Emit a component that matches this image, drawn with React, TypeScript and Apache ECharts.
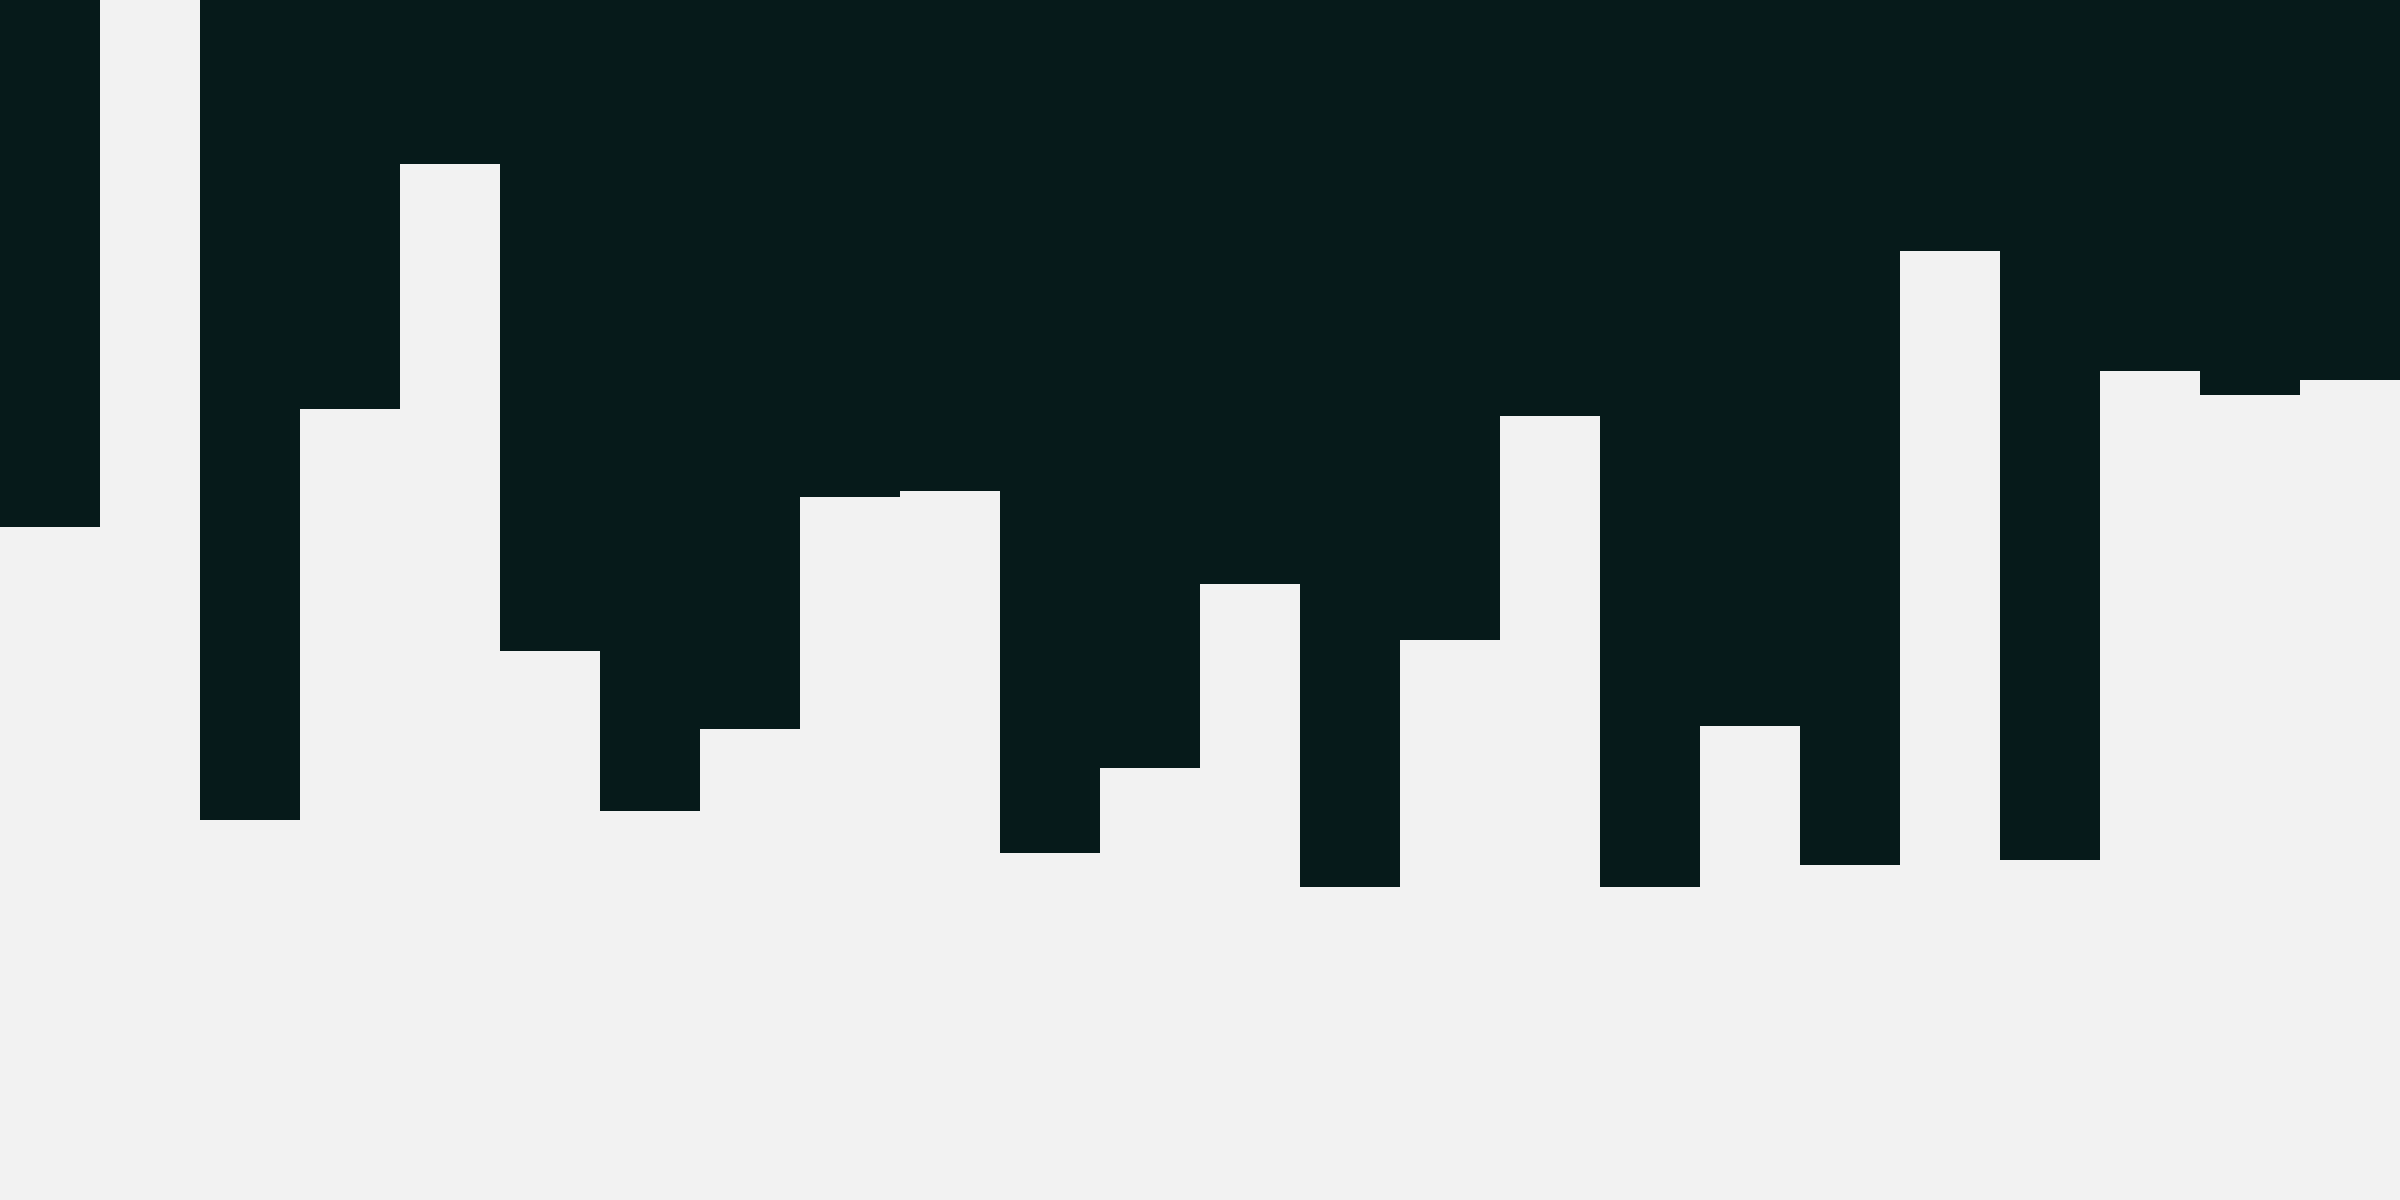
import * as echarts from "echarts";
import { useEffect, useRef } from "react";

// one bar per column, hanging from the top edge (values = depth in px of a 1200px chart)
const categories: string[] = [
  "1", "2", "3", "4", "5", "6", "7", "8", "9", "10", "11", "12",
  "13", "14", "15", "16", "17", "18", "19", "20", "21", "22", "23", "24",
];
const depths: number[] = [
  527, 0, 820, 409, 164, 651, 811, 729, 497, 491, 853, 768,
  584, 887, 640, 416, 887, 726, 865, 251, 860, 371, 395, 380,
];
const depthMax = 1200;

const App = () => {
  const chartRef = useRef<HTMLDivElement>(null);

  useEffect(() => {
    document.body.style.margin = "0";
    const chart = echarts.init(chartRef.current, null, { renderer: "svg" });
    chart.setOption({
      animation: false,
      backgroundColor: "#f2f2f2",
      grid: { left: 0, right: 0, top: 0, bottom: 0 },
      xAxis: {
        type: "category",
        data: categories,
        show: false,
      },
      yAxis: {
        type: "value",
        min: 0,
        max: depthMax,
        inverse: true,
        show: false,
      },
      series: [
        {
          type: "bar",
          data: depths,
          barCategoryGap: "0%",
          itemStyle: { color: "#061a1a" },
        },
      ],
    });
    return () => {
      chart.dispose();
    };
  }, []);

  return <div ref={chartRef} style={{ width: "2400px", height: "1200px" }}></div>;
};

export default App;
